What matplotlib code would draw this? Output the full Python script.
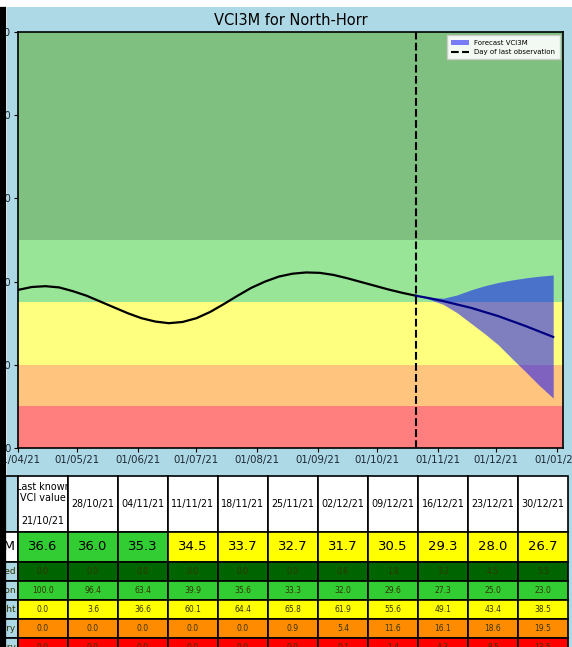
import datetime
import matplotlib
matplotlib.use('Agg')
import matplotlib.pyplot as plt
import matplotlib.dates as mdates
from matplotlib.patches import Rectangle
from matplotlib.lines import Line2D

W, H = 572, 647

def d(s):
    return datetime.datetime.strptime(s, "%d/%m/%y")

obs_dates = ["28/03/21", "01/04/21", "08/04/21", "15/04/21", "22/04/21", "29/04/21", "06/05/21",
             "13/05/21", "20/05/21", "27/05/21", "03/06/21", "10/06/21", "17/06/21", "24/06/21",
             "01/07/21", "08/07/21", "15/07/21", "22/07/21", "29/07/21", "05/08/21", "12/08/21",
             "19/08/21", "26/08/21", "02/09/21", "09/09/21", "16/09/21", "23/09/21", "30/09/21",
             "07/10/21", "14/10/21", "21/10/21"]
obs_vci = [37.4, 38.0, 38.7, 38.9, 38.6, 37.7, 36.6,
           35.2, 33.8, 32.4, 31.2, 30.4, 30.0, 30.3,
           31.2, 32.7, 34.6, 36.6, 38.5, 40.0, 41.2,
           41.9, 42.2, 42.1, 41.6, 40.8, 39.9, 39.0,
           38.1, 37.3, 36.6]

# forecast
fc_dates = ["21/10/21", "28/10/21", "04/11/21", "11/11/21", "18/11/21", "25/11/21",
            "02/12/21", "09/12/21", "16/12/21", "23/12/21", "30/12/21"]
fc_vci = [36.6, 36.0, 35.3, 34.5, 33.7, 32.7, 31.7, 30.5, 29.3, 28.0, 26.7]
fc_upper = [36.6, 36.2, 36.0, 36.8, 38.0, 39.0, 39.8, 40.4, 40.9, 41.3, 41.6]
fc_lower = [36.6, 35.7, 34.5, 32.5, 30.0, 27.5, 24.8, 21.5, 18.3, 15.0, 12.0]

last_obs = "21/10/21"

# table
row_labels = ["", "VCI3M", "Vegetation not stressed", "Normal vegetation",
              "Moderate drought", "Severely dry", "Extremely dry"]
prob_wet = [0.0, 0.0, 0.0, 0.0, 0.0, 0.0, 0.6, 1.8, 3.2, 4.5, 5.5]
prob_normal = [100.0, 96.4, 63.4, 39.9, 35.6, 33.3, 32.0, 29.6, 27.3, 25.0, 23.0]
prob_moderate = [0.0, 3.6, 36.6, 60.1, 64.4, 65.8, 61.9, 55.6, 49.1, 43.4, 38.5]
prob_severe = [0.0, 0.0, 0.0, 0.0, 0.0, 0.9, 5.4, 11.6, 16.1, 18.6, 19.5]
prob_extreme = [0.0, 0.0, 0.0, 0.0, 0.0, 0.0, 0.1, 1.4, 4.3, 8.5, 13.5]

bands = [(0, 10, 'red'), (10, 20, 'darkorange'), (20, 35, 'yellow'),
         (35, 50, 'limegreen'), (50, 100, 'green')]


def vci_colour(v):
    if v >= 50:
        return 'darkgreen'
    if v >= 35:
        return 'limegreen'
    if v >= 20:
        return 'yellow'
    if v >= 10:
        return 'darkorange'
    return 'red'


fig = plt.figure(figsize=(W / 100, H / 100), dpi=100, facecolor='white')
fig.patches.append(Rectangle((7 / W, 0), 1, 1 - 7 / H, transform=fig.transFigure,
                             facecolor='lightblue', edgecolor='none', zorder=-10))

ax = fig.add_axes([18 / W, (H - 448) / H, 545 / W, 416 / H])
for lo, hi, c in bands:
    ax.axhspan(lo, hi, color=c, alpha=0.5, lw=0)

ax.plot([d(s) for s in obs_dates], obs_vci, color='black', lw=1.6)
fcd = [d(s) for s in fc_dates]
ax.fill_between(fcd, fc_lower, fc_upper, color='blue', alpha=0.5, lw=0, label='Forecast VCI3M')
ax.plot(fcd, fc_vci, color='navy', lw=1.6)
ax.axvline(d(last_obs), color='black', ls='--', lw=1.5, label='Day of last observation')

ax.set_ylim(0, 100)
ax.set_xlim(d("01/04/21"), d("04/01/22"))
ax.set_yticks([0, 20, 40, 60, 80, 100])
ax.xaxis.set_major_locator(mdates.MonthLocator())
ax.xaxis.set_major_formatter(mdates.DateFormatter('%d/%m/%y'))
ax.tick_params(labelsize=7.3, length=3, pad=2, labelcolor='#1c2833')
for sp in ax.spines.values():
    sp.set_linewidth(1.2)
ax.set_title('VCI3M for North-Horr', fontsize=10.5, pad=5)
ax.legend(loc='upper right', fontsize=5, handlelength=2.5, borderpad=0.6,
          framealpha=0.9, fancybox=False)

# table below
col_w = [78] + [50] * 11
row_h = [56, 30, 19, 19, 19, 19, 19]
tleft = 18 - col_w[0]
ttop = 476
tax = fig.add_axes([tleft / W, (H - ttop - sum(row_h)) / H, sum(col_w) / W, sum(row_h) / H])
tax.axis('off')

header = ["Last known\nVCI value\n\n" + fc_dates[0]] + fc_dates[1:]
probs = [prob_wet, prob_normal, prob_moderate, prob_severe, prob_extreme]
prob_cols = ['darkgreen', 'limegreen', 'yellow', 'darkorange', 'red']
cell_text = [[row_labels[0]] + header,
             [row_labels[1]] + ["%.1f" % v for v in fc_vci]]
cell_col = [['lightblue'] + ['white'] * 11,
            ['white'] + [vci_colour(v) for v in fc_vci]]
for lab, p, c in zip(row_labels[2:], probs, prob_cols):
    cell_text.append([lab] + ["%.1f" % v for v in p])
    cell_col.append(['lightblue'] + [c] * 11)

tbl = tax.table(cellText=cell_text, cellColours=cell_col, cellLoc='center', bbox=[0, 0, 1, 1])
tbl.auto_set_font_size(False)
for (r, c), cell in tbl.get_celld().items():
    cell.set_width(col_w[c])
    cell.set_height(row_h[r])
    cell.set_linewidth(1.2)
    t = cell.get_text()
    if r == 0:
        t.set_fontsize(6.9)
    elif r == 1:
        t.set_fontsize(9.5)
    else:
        t.set_fontsize(6.5 if c == 0 else 5.5)
        t.set_color('#333300')
    if c == 0:
        cell.PAD = 0.03
        t.set_horizontalalignment('right')
        cell._loc = 'right'

# black frame edge on the left
fig.add_artist(Line2D([3 / W, 3 / W], [0, 1 - 10 / H], color='black', lw=4.5,
                      transform=fig.transFigure))

fig.savefig('out.png', dpi=100, facecolor=fig.get_facecolor())
